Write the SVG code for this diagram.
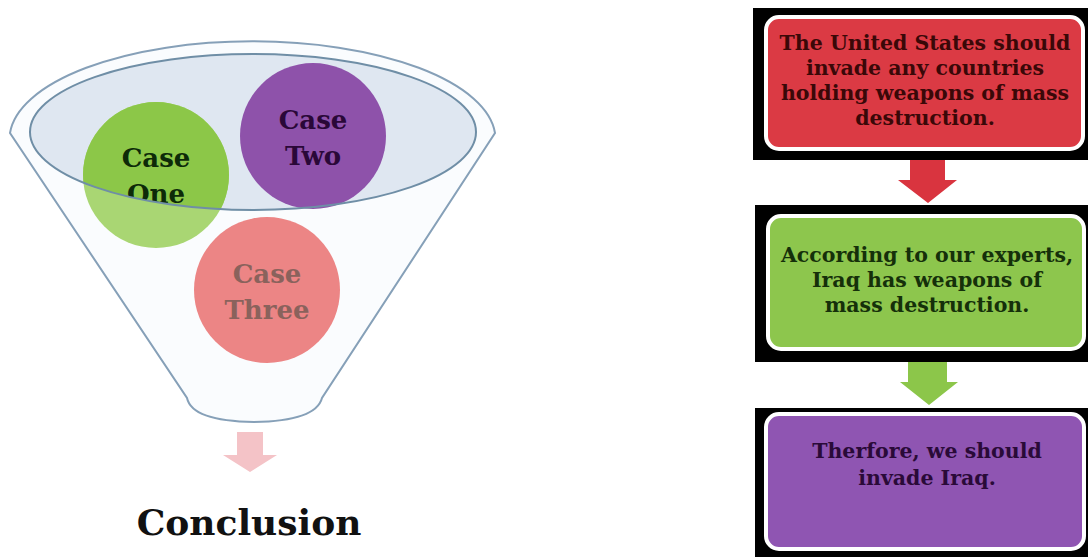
<svg xmlns="http://www.w3.org/2000/svg" width="1088" height="557" viewBox="0 0 1088 557">
<style>
.ct{font-family:"DejaVu Serif","Liberation Serif",serif;font-weight:bold;font-size:26px;text-anchor:middle}
.bt{font-family:"DejaVu Serif","Liberation Serif",serif;font-weight:bold;font-size:20.5px;text-anchor:middle}
.frame{fill:#000}
.inner{stroke:#fff;stroke-width:4}
</style>
<defs>
<clipPath id="inEll"><ellipse cx="253" cy="132" rx="223" ry="78"/></clipPath>
</defs>
<rect width="1088" height="557" fill="#fff"/>
<g id="funnel">
<path d="M10,133 A243,98 0 0 1 495,133 L322,398 Q316,421 254,422 Q192,421 187,398 Z" fill="#fafcfe" stroke="#86a0b8" stroke-width="2"/>
<ellipse cx="253" cy="132" rx="223" ry="78" fill="#dfe7f1"/>
</g>
<g id="case-one">
<circle cx="156" cy="175" r="73" fill="#a9d673"/>
<circle cx="156" cy="175" r="73" fill="#8cc748" clip-path="url(#inEll)"/>
<text class="ct" x="156" y="167" fill="#0d2a08">Case</text>
<text class="ct" x="156" y="203" fill="#0d2a08" clip-path="url(#inEll)">One</text>
</g>
<g id="case-two">
<circle cx="313" cy="136" r="73" fill="#8e52aa"/>
<text class="ct" x="313" y="129" fill="#2a0838">Case</text>
<text class="ct" x="313" y="165" fill="#2a0838">Two</text>
</g>
<g id="case-three">
<circle cx="267" cy="290" r="73" fill="#ec8585"/>
<text class="ct" x="267" y="283" fill="#8a625c">Case</text>
<text class="ct" x="267" y="319" fill="#8a625c">Three</text>
</g>
<ellipse cx="253" cy="132" rx="223" ry="78" fill="none" stroke="#6f8ea6" stroke-width="2"/>
<g id="conclusion">
<text x="249" y="535" font-family="DejaVu Serif, Liberation Serif, serif" font-weight="bold" font-size="36" text-anchor="middle" fill="#111">Conclusion</text>
</g>
<g id="box1">
<rect class="frame" x="753" y="8" width="335" height="152"/>
<rect class="inner" x="766" y="17" width="317" height="132" rx="13" fill="#db3a44"/>
<text class="bt" fill="#3a0808"><tspan x="925" y="50">The United States should</tspan><tspan x="925" y="75">invade any countries</tspan><tspan x="925" y="100">holding weapons of mass</tspan><tspan x="925" y="125">destruction.</tspan></text>
</g>
<g id="box2">
<rect class="frame" x="755" y="205" width="333" height="157"/>
<rect class="inner" x="768" y="216" width="316" height="133" rx="13" fill="#8dc64d"/>
<text class="bt" fill="#15300a"><tspan x="927" y="262">According to our experts,</tspan><tspan x="927" y="287">Iraq has weapons of</tspan><tspan x="927" y="312">mass destruction.</tspan></text>
</g>
<g id="box3">
<rect class="frame" x="755" y="408" width="333" height="149"/>
<rect class="inner" x="766" y="414" width="318" height="135" rx="13" fill="#8f55b2"/>
<text class="bt" fill="#2a0a38"><tspan x="927" y="458">Therfore, we should</tspan><tspan x="927" y="485">invade Iraq.</tspan></text>
</g>
<g id="connectors">
<polygon points="237,432 263,432 263,455 277,455 250,472 223,455 237,455" fill="#f4c3c7"/>
<polygon points="910,160 945,160 945,180 957,180 928,203 898,180 910,180" fill="#d9343f"/>
<polygon points="908,362 947,362 947,382 958,382 929,405 900,382 908,382" fill="#8cc64a"/>
</g>
</svg>
